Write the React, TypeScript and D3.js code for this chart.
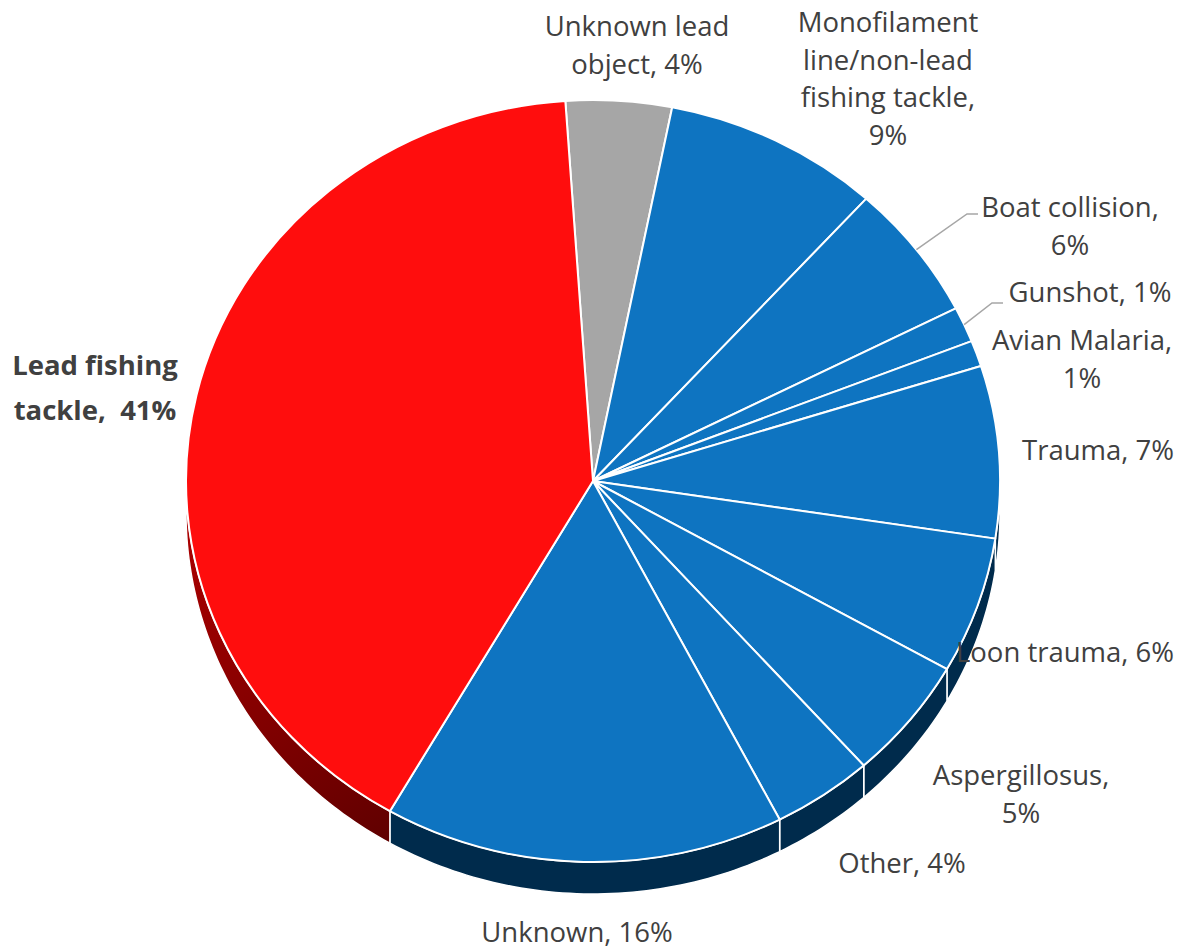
import React from "react";
import * as d3 from "d3";

const categories = [
  "Unknown lead object",
  "Monofilament line/non-lead fishing tackle",
  "Boat collision",
  "Gunshot",
  "Avian Malaria",
  "Trauma",
  "Loon trauma",
  "Aspergillosus",
  "Other",
  "Unknown",
  "Lead fishing tackle",
];
const values = [4.2, 8.6, 5.8, 1.5, 1.1, 7.3, 5.8, 5.2, 4.0, 15.9, 40.6];
const percentLabels = ["4%", "9%", "6%", "1%", "1%", "7%", "6%", "5%", "4%", "16%", "41%"];
const labelLines = [
  ["Unknown lead", "object, 4%"],
  ["Monofilament", "line/non-lead", "fishing tackle,", "9%"],
  ["Boat collision,", "6%"],
  ["Gunshot, 1%"],
  ["Avian Malaria,", "1%"],
  ["Trauma, 7%"],
  ["Loon trauma, 6%"],
  ["Aspergillosus,", "5%"],
  ["Other, 4%"],
  ["Unknown, 16%"],
  ["Lead fishing", "tackle,\u00a0 41%"],
];

// layout (not data)
const W = 1183, H = 949;
const cx = 593, cy = 481, rx = 407, ry = 381, depth = 32;
const startDeg = -3.9;
const labelPos: [number, number][] = [
  [637, 36], [888, 32], [1070, 217], [1090, 302], [1082, 350], [1098, 460],
  [1065, 662], [1021, 785], [902, 873], [577, 942], [95, 375],
];
const lineH = 37.5;
const leaders: Record<number, [number, number][]> = {
  2: [[967, 214], [978, 214]],
  3: [[992, 303], [1003, 303]],
};

const topColors = (i: number) => (i === 10 ? "#ff0d0d" : i === 0 ? "#a6a6a6" : "#0e74c1");
const sideFill = (i: number) => (i === 10 ? "url(#redSide)" : i === 0 ? "#5a5a5a" : "#002b4c");

function ept(a: number, dy = 0): [number, number] {
  return [cx + rx * Math.sin(a), cy - ry * Math.cos(a) + dy];
}

export default function App() {
  const pie = d3
    .pie<number>()
    .sort(null)
    .value((d) => d)
    .startAngle((startDeg * Math.PI) / 180)
    .endAngle((startDeg * Math.PI) / 180 + 2 * Math.PI);
  const arcs = pie(values);
  const arc = d3.arc<d3.PieArcDatum<number>>().innerRadius(0).outerRadius(rx);

  const sides = arcs.map((a, i) => {
    const lo = Math.max(a.startAngle, Math.PI / 2);
    const hi = Math.min(a.endAngle, (3 * Math.PI) / 2);
    if (hi <= lo) return null;
    const n = Math.max(4, Math.ceil(((hi - lo) * 180) / Math.PI));
    const top: [number, number][] = [];
    const bot: [number, number][] = [];
    for (let k = 0; k <= n; k++) {
      const t = lo + ((hi - lo) * k) / n;
      top.push(ept(t));
      bot.push(ept(t, depth));
    }
    const pts = top.concat(bot.reverse());
    const d = d3.line()(pts) + "Z";
    return <path key={"s" + i} d={d} fill={sideFill(i)} stroke="#ffffff" strokeWidth={1.5} strokeLinejoin="round" />;
  });

  return (
    <svg width={W} height={H} style={{ display: "block", position: "absolute", left: 0, top: 0 }}>
      <defs>
        <linearGradient id="redSide" gradientUnits="userSpaceOnUse" x1={186} y1={500} x2={390} y2={840}>
          <stop offset="0" stopColor="#b00000" />
          <stop offset="1" stopColor="#600000" />
        </linearGradient>
      </defs>
      <rect width={W} height={H} fill="#ffffff" />
      <g>{sides}</g>
      <g transform={`translate(${cx},${cy}) scale(1,${ry / rx})`}>
        {arcs.map((a, i) => (
          <path
            key={"t" + i}
            d={arc(a) || ""}
            fill={topColors(i)}
            stroke="#ffffff"
            strokeWidth={2}
            strokeLinejoin="round"
            vectorEffect="non-scaling-stroke"
          />
        ))}
      </g>
      {Object.keys(leaders).map((k) => {
        const i = +k;
        const a = arcs[i];
        const mid = (a.startAngle + a.endAngle) / 2;
        const pts = [ept(mid), ...leaders[i]];
        return <path key={"l" + i} d={d3.line()(pts) || ""} fill="none" stroke="#a6a6a6" strokeWidth={1.5} />;
      })}
      <g fontFamily="'Open Sans', sans-serif" fontSize={27.5} fill="#404040" textAnchor="middle">
        {labelLines.map((lines, i) => (
          <text key={"x" + i} x={labelPos[i][0]} y={labelPos[i][1]} fontWeight={i === 10 ? "bold" : "normal"}>
            {lines.map((ln, j) => (
              <tspan key={j} x={labelPos[i][0]} y={labelPos[i][1] + j * (i === 10 ? 45 : lineH)}>
                {ln}
              </tspan>
            ))}
          </text>
        ))}
      </g>
    </svg>
  );
}
